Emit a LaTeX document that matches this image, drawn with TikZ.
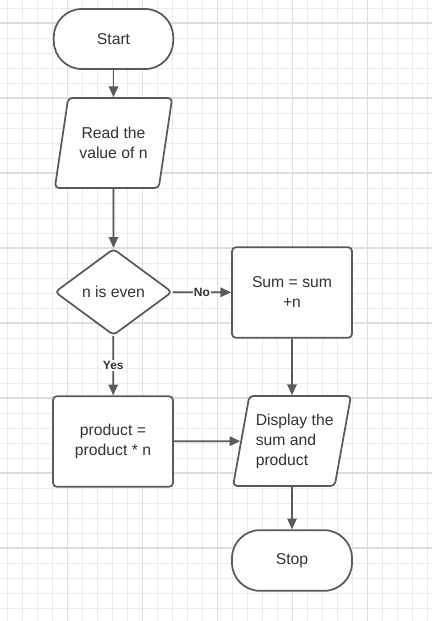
\documentclass[tikz,border=0pt]{standalone}
\usepackage{fontspec}
\setmainfont{Liberation Sans}
\usetikzlibrary{arrows.meta,shapes.geometric}
\definecolor{FCLine}{HTML}{5A5A5A}
\definecolor{FCInk}{HTML}{333333}
\definecolor{FCGrid}{HTML}{EBEBEB}
\definecolor{FCGridMajor}{HTML}{DEDEDE}
\tikzset{
  flow/.style={-{Triangle[length=8pt,width=7pt]},FCLine,line width=1.3pt},
  block/.style={draw=FCLine,line width=1.3pt,fill=white,text=FCInk,
                font=\fontsize{11.8}{15}\selectfont,align=center},
  termbox/.style={block,rectangle,rounded corners=21pt,minimum width=89.5pt,minimum height=45pt},
  iobox/.style={block,trapezium,trapezium left angle=76,trapezium right angle=104,
                trapezium stretches=true,rounded corners=3pt,
                minimum width=88.5pt,minimum height=67.5pt,inner xsep=0pt},
  decision/.style={block,diamond,minimum width=88pt,minimum height=65pt,
                   inner sep=0pt,rounded corners=3pt},
  procbox/.style={block,rectangle,rounded corners=3pt,minimum width=90pt,minimum height=68pt},
  tag/.style={fill=white,text=FCInk,font=\fontsize{9}{11}\selectfont\bfseries,inner sep=1pt},
  gridminor/.style={FCGrid,line width=0.75pt},
  gridmajor/.style={FCGridMajor,line width=0.8pt},
}

\begin{document}
\begin{tikzpicture}[x=0.75pt,y=-0.75pt]
  \useasboundingbox (0,0) rectangle (432,621);
  % background grid
  \foreach \gx in {7.5,22.5,...,427.5} \draw[gridminor] (\gx,0) -- (\gx,621);
  \foreach \gy in {8,23,...,620} \draw[gridminor] (0,\gy) -- (432,\gy);
  \foreach \gx in {67.5,142.5,...,367.5} \draw[gridmajor] (\gx,0) -- (\gx,621);
  \foreach \gy in {23,98,...,548} \draw[gridmajor] (0,\gy) -- (432,\gy);

  \node[termbox] (start) at (113.5,39) {Start};
  \node[iobox] (read) at (113.5,143) {Read the\\value of n};
  \node[decision] (even) at (113.5,292) {n is even};
  \node[procbox] (sum) at (292,292.5) {Sum = sum\\+n};
  \node[procbox] (prod) at (113,441.5) {product =\\product * n};
  \node[iobox,align=left] (show) at (292,441) {\hspace*{4pt}Display the\\\hspace*{4pt}sum and\\\hspace*{4pt}product};
  \node[termbox,minimum width=90pt,minimum height=45.5pt] (stop) at (292,560.5) {Stop};

  \draw[flow] (start) -- (read);
  \draw[flow] (read) -- (even);
  \draw[flow] (even) -- node[tag] {No} (sum);
  \draw[flow] (even) -- node[tag] {Yes} (prod);
  \draw[flow] (sum) -- (show);
  \draw[flow] (prod) -- (show);
  \draw[flow] (show) -- (stop);
\end{tikzpicture}
\end{document}
